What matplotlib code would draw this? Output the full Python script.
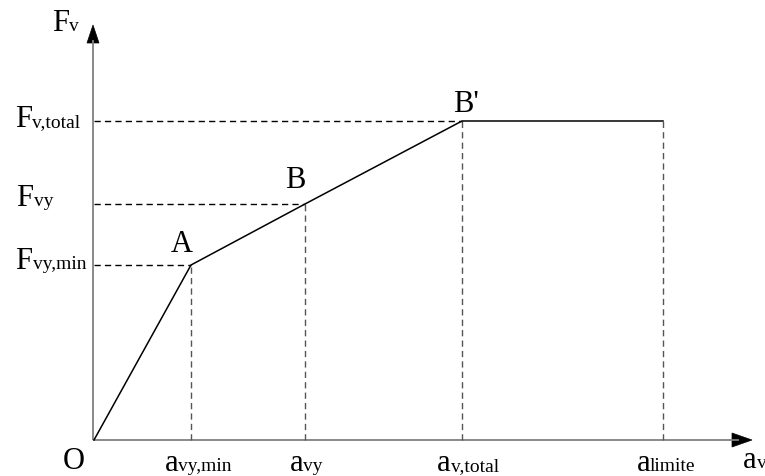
import matplotlib
matplotlib.use("Agg")
import matplotlib.pyplot as plt
from matplotlib.patches import Polygon

# Displacement (a_v) and force (F_v) at the characteristic points O, A, B, B', limit
a_vals = [0, 97, 211, 368, 569]
f_vals = [0, 175, 236, 319, 319]
point_names = ["O", "A", "B", "B'"]
x_labels = [("a", "vy,min"), ("a", "vy"), ("a", "v,total"), ("a", "limite")]
y_labels = [("F", "vy,min"), ("F", "vy"), ("F", "v,total")]

SERIF = "Liberation Serif"
MAIN_FS = 22
SUB_FS = 14

fig = plt.figure(figsize=(7.65, 4.77), dpi=100)
ax = fig.add_axes([0, 0, 1, 1])
ax.set_xlim(-94, 671)
ax.set_ylim(-36, 441)
ax.axis("off")

axis_col = "#808080"
dash = (0, (4.5, 3))

# axes with arrow heads
ax.plot([-1, 645], [0, 0], color=axis_col, lw=1.3, solid_capstyle="butt")
ax.plot([-1, -1], [0, 400], color=axis_col, lw=1.3, solid_capstyle="butt")
ax.add_patch(Polygon([[638, 7], [638, -7], [658, 0]], closed=True,
                     facecolor="black", edgecolor="black", lw=0.5))
ax.add_patch(Polygon([[-7, 397], [5, 397], [-1, 415]], closed=True,
                     facecolor="black", edgecolor="black", lw=0.5))

# guide lines from each point to the axes
for a, f in zip(a_vals[1:], f_vals[1:]):
    ax.plot([a, a], [0, f], color="#555555", lw=1.0, linestyle=dash)
for a, f in zip(a_vals[1:4], f_vals[1:4]):
    ax.plot([0, a], [f, f], color="black", lw=1.0, linestyle=dash)

# force-displacement curve
ax.plot(a_vals, f_vals, color="black", lw=1.1, solid_joinstyle="miter")

fig.canvas.draw()
renderer = fig.canvas.get_renderer()


def label(x, y, main, sub, ha="left"):
    t1 = ax.text(x, y, main, fontsize=MAIN_FS, family=SERIF, va="baseline", ha="left")
    t2 = ax.text(x, y, sub, fontsize=SUB_FS, family=SERIF, va="baseline", ha="left")
    w1 = t1.get_window_extent(renderer).width
    w2 = t2.get_window_extent(renderer).width if sub else 0
    total = w1 + w2
    if ha == "right":
        x0 = x - total
    elif ha == "center":
        x0 = x - total / 2
    else:
        x0 = x
    t1.set_x(x0)
    t2.set_x(x0 + w1)


# axis titles
label(-42, 410, "F", "v")
label(649, -27, "a", "v")

# labels under the displacement axis
x_offsets = [7, 1, 6, 3]
for a, (m, s), dx in zip(a_vals[1:], x_labels, x_offsets):
    label(a + dx, -30, m, s, ha="center")

# labels beside the force axis
y_pos = [(-8, -3, "right"), (-41, -1, "right"), (-14, -5, "right")]
for f, (m, s), (dx, dy, ha) in zip(f_vals[1:4], y_labels, y_pos):
    label(dx, f + dy, m, s, ha=ha)

# point names
pt_off = [(-20, -28), (-9, 14), (-10, 17), (4, 10)]
for name, a, f, (dx, dy) in zip(point_names, a_vals, f_vals, pt_off):
    ax.text(a + dx, f + dy, name, fontsize=MAIN_FS, family=SERIF,
            va="baseline", ha="center")

fig.savefig("out.png", dpi=100)
